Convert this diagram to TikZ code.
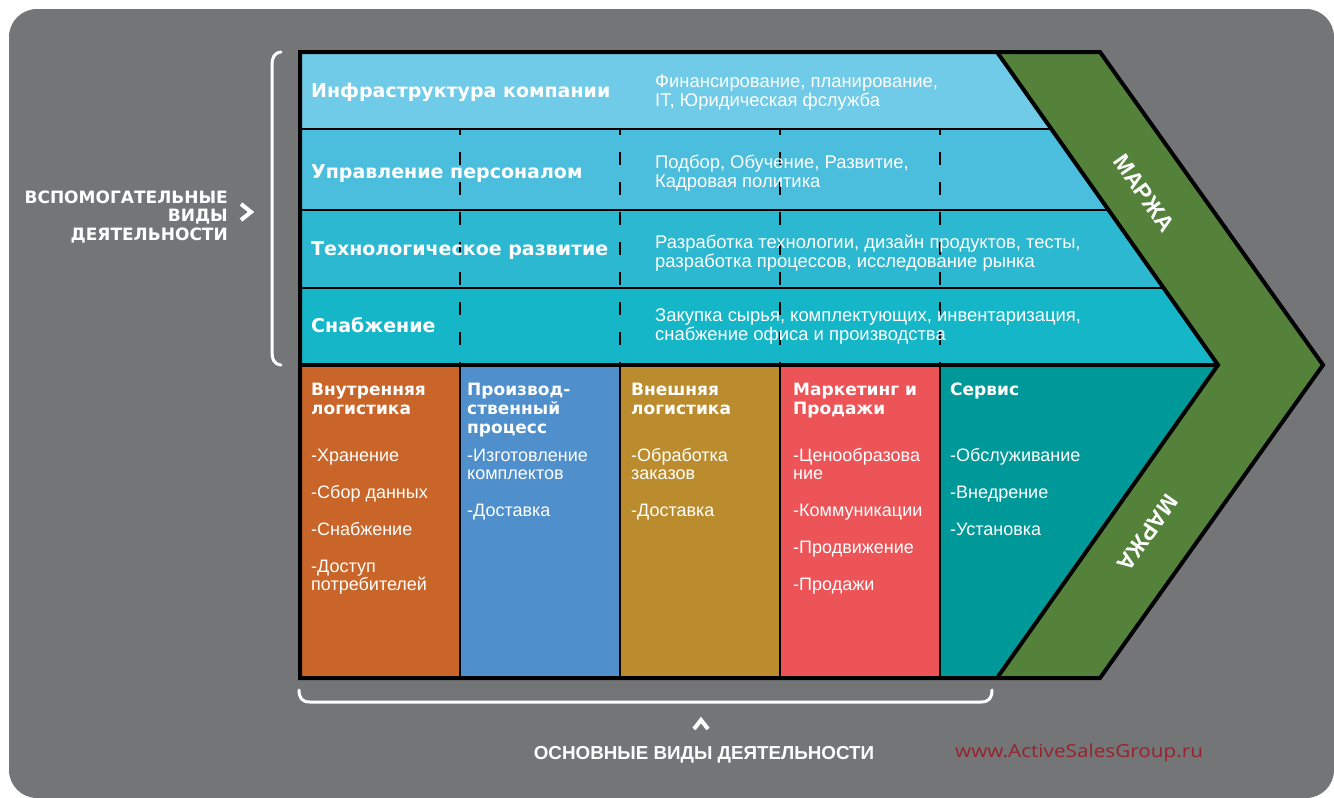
\documentclass[tikz,border=0pt]{standalone}
\usepackage{fontspec}
\setmainfont{Liberation Sans}
\newfontfamily\heavyfont{DejaVu Sans}
\newfontfamily\urlfont{Open Sans}
\usetikzlibrary{positioning}

\definecolor{bggray}{RGB}{116,117,119}
\definecolor{row1}{RGB}{111,203,232}
\definecolor{row2}{RGB}{75,190,221}
\definecolor{row3}{RGB}{44,184,208}
\definecolor{row4}{RGB}{20,182,200}
\definecolor{inbound}{RGB}{201,101,40}
\definecolor{operations}{RGB}{78,143,204}
\definecolor{outbound}{RGB}{187,140,45}
\definecolor{marketing}{RGB}{237,84,87}
\definecolor{service}{RGB}{0,153,153}
\definecolor{margin}{RGB}{84,130,58}
\definecolor{urlred}{RGB}{150,35,45}

\newcommand{\itemgap}{\\[18.5pt]}

% multi-line nodes sit on the baseline of their last line
\tikzset{
  rowtitle/.style={anchor=base west, inner sep=0, text=white,
    font=\heavyfont\bfseries\fontsize{19}{19}\selectfont},
  rowtext/.style={anchor=base west, inner sep=0, text=white, align=left,
    font=\fontsize{18.4}{19}\selectfont},
  coltitle/.style={anchor=base west, inner sep=0, text=white, align=left,
    font=\heavyfont\bfseries\fontsize{17}{19}\selectfont},
  coltext/.style={anchor=base west, inner sep=0, text=white, align=left,
    font=\fontsize{18}{18.5}\selectfont},
  marg/.style={inner sep=0, text=white, font=\bfseries\fontsize{23}{23}\selectfont},
  sepline/.style={black, line width=2pt},
  dashsep/.style={black, line width=2pt, dash pattern=on 13pt off 17pt, dash phase=7pt},
  frame/.style={black, line width=4pt, line join=miter},
  bracket/.style={white, line width=3pt, line cap=round},
  chev/.style={white, line width=4pt, line join=miter}
}

\begin{document}
\begin{tikzpicture}[x=1pt,y=-1pt]
\useasboundingbox (0,0) rectangle (1334,798);
\fill[white] (0,0) rectangle (1334,798);
\fill[bggray, rounded corners=28pt] (9,9) rectangle (1334,798);

\coordinate (tl) at (300,52);
\coordinate (bl) at (300,678);
\coordinate (mt) at (997,52);
\coordinate (mb) at (997,678);
\coordinate (ot) at (1100,52);
\coordinate (ob) at (1100,678);
\coordinate (tip) at (1218,365);
\coordinate (otip) at (1323,365);
\coordinate (s0) at (300,365);
% row ends on the inner edge of the margin
\coordinate (r1) at (1051.4,129);
\coordinate (r2) at (1108.6,210);
\coordinate (r3) at (1163.6,288);

% support activities
\fill[row1] (tl) -- (mt) -- (r1) -- (300,129) -- cycle;
\fill[row2] (300,129) -- (r1) -- (r2) -- (300,210) -- cycle;
\fill[row3] (300,210) -- (r2) -- (r3) -- (300,288) -- cycle;
\fill[row4] (300,288) -- (r3) -- (tip) -- (s0) -- cycle;

% primary activities
\fill[inbound] (s0) rectangle (460,678);
\fill[operations] (460,365) rectangle (620,678);
\fill[outbound] (620,365) rectangle (780,678);
\fill[marketing] (780,365) rectangle (940,678);
\fill[service] (940,365) -- (tip) -- (mb) -- (940,678) -- cycle;

% margin
\fill[margin] (mt) -- (ot) -- (otip) -- (ob) -- (mb) -- (tip) -- cycle;

\draw[sepline] (300,129) -- (r1);
\draw[sepline] (300,210) -- (r2);
\draw[sepline] (300,288) -- (r3);
\foreach \x in {460,620,780,940} {
  \draw[dashsep] (\x,129) -- (\x,365);
  \draw[sepline] (\x,365) -- (\x,678);
}
\draw[frame] (s0) -- (tip);
\draw[frame] (mt) -- (tip) -- (mb);
\draw[frame] (tl) -- (ot) -- (otip) -- (ob) -- (bl) -- cycle;

\node (infra) [rowtitle] at (311,97) {Инфраструктура компании};
\node (hr) [rowtitle] at (311,178) {Управление персоналом};
\node (tech) [rowtitle] at (311,255) {Технологическое развитие};
\node (proc) [rowtitle] at (311,332) {Снабжение};

\node (infratxt) [rowtext] at (655,106) {Финансирование, планирование,\\IT, Юридическая фслужба};
\node (hrtxt) [rowtext] at (655,187) {Подбор, Обучение, Развитие,\\Кадровая политика};
\node (techtxt) [rowtext] at (655,267) {Разработка технологии, дизайн продуктов, тесты,\\разработка процессов, исследование рынка};
\node (proctxt) [rowtext] at (655,340) {Закупка сырья, комплектующих, инвентаризация,\\снабжение офиса и производства};

\node (inb) [coltitle] at (311,414) {Внутренняя\\логистика};
\node (ops) [coltitle] at (467,433) {Производ-\\ственный\\процесс};
\node (outb) [coltitle] at (631,414) {Внешняя\\логистика};
\node (mkt) [coltitle] at (793,414) {Маркетинг и\\Продажи};
\node (srv) [coltitle] at (950,395) {Сервис};

\node (inbtxt) [coltext] at (311,590.5) {-Хранение\itemgap-Сбор данных\itemgap-Снабжение\itemgap-Доступ\\потребителей};
\node (opstxt) [coltext] at (467,516.5) {-Изготовление\\комплектов\itemgap-Доставка};
\node (outbtxt) [coltext] at (631,516.5) {-Обработка\\заказов\itemgap-Доставка};
\node (mkttxt) [coltext] at (793,590.5) {-Ценообразова\\ние\itemgap-Коммуникации\itemgap-Продвижение\itemgap-Продажи};
\node (srvtxt) [coltext] at (950,535) {-Обслуживание\itemgap-Внедрение\itemgap-Установка};

\node (margtop) [marg, rotate=-54.8] at (1144,193) {МАРЖА};
\node (margbot) [marg, rotate=-125.2] at (1148,533) {МАРЖА};

% brackets and labels
\draw[bracket] (281,52) .. controls (274,53) and (272,57) .. (272,66) -- (272,350)
  .. controls (272,360) and (274,364) .. (281,365);
\draw[chev] (241,204) -- (251,212) -- (241,220);
\node (support) [anchor=base east, inner sep=0, text=white, align=right,
  font=\heavyfont\bfseries\fontsize{17}{18.5}\selectfont] at (228,240)
  {ВСПОМОГАТЕЛЬНЫЕ\\ВИДЫ\\ДЕЯТЕЛЬНОСТИ};

\draw[bracket] (299,690) .. controls (299,698) and (302,702) .. (310,702) -- (981,702)
  .. controls (989,702) and (992,698) .. (992,690);
\draw[chev] (694,729) -- (701,720) -- (708,729);
\node (primary) [anchor=base, inner sep=0, text=white,
  font=\bfseries\fontsize{18.8}{18.8}\selectfont] at (704,759) {ОСНОВНЫЕ ВИДЫ ДЕЯТЕЛЬНОСТИ};

\node (site) [anchor=base west, inner sep=0, text=urlred, xscale=1.15,
  font=\urlfont\fontsize{18}{18}\selectfont] at (955,757) {www.ActiveSalesGroup.ru};
\end{tikzpicture}
\end{document}
